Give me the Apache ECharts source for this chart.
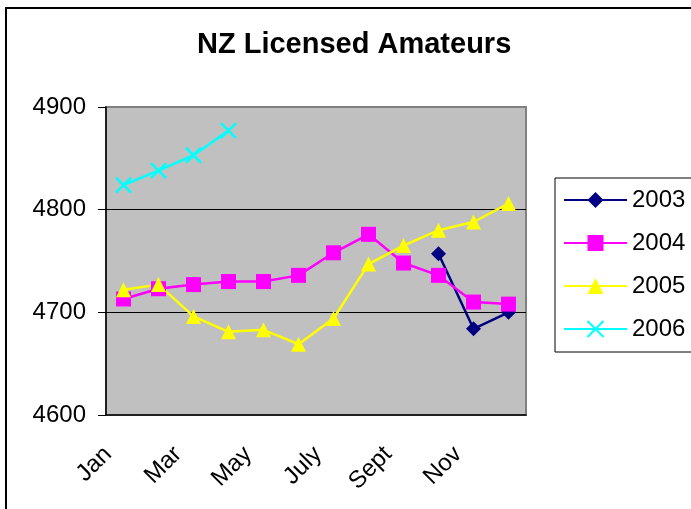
<!DOCTYPE html>
<html>
<head>
<meta charset="utf-8">
<script src="https://cdn.jsdelivr.net/npm/echarts@6/dist/echarts.min.js"></script>
<style>html,body{margin:0;padding:0;background:#fff;}#c{width:691px;height:509px;}</style>
</head>
<body>
<div id="c"></div>
<script>
var months = ['Jan','Feb','Mar','Apr','May','June','July','Aug','Sept','Oct','Nov','Dec'];
var y2003 = [null,null,null,null,null,null,null,null,null,4757,4684,4700];
var y2004 = [4713,4723,4727,4730,4730,4736,4758,4776,4748,4736,4710,4708];
var y2005 = [4722,4727,4696,4681,4683,4669,4694,4747,4765,4780,4788,4806];
var y2006 = [4824,4838,4853,4877,null,null,null,null,null,null,null,null];
var yTicks = [4600, 4700, 4800, 4900];

var FONT = "'Liberation Sans', Arial, sans-serif";
var chart = echarts.init(document.getElementById('c'), null, {renderer:'canvas'});
function mk(name, data, color, symbol, extra) {
  var s = {
    name: name, type: 'line', data: data, connectNulls: false,
    symbol: symbol, symbolSize: 15,
    lineStyle: {color: color, width: 2.5},
    itemStyle: {color: color},
    animation: false
  };
  if (extra) for (var k in extra) s[k] = extra[k];
  return s;
}
chart.setOption({
  backgroundColor: '#fff',
  animation: false,
  title: {
    text: 'NZ Licensed Amateurs', left: 197, top: 30, padding: 0,
    textStyle: {fontFamily: FONT, fontSize: 29, fontWeight: 'bold', color: '#000'}
  },
  graphic: [{
    type: 'rect', shape: {x: 6, y: 8, width: 720, height: 540},
    style: {fill: 'none', stroke: '#000', lineWidth: 2}, z: 100
  }],
  legend: {
    orient: 'vertical', left: 555, top: 178,
    padding: [10, 14, 11, 8],
    itemWidth: 63, itemHeight: 20, itemGap: 19,
    borderColor: '#000', borderWidth: 1, backgroundColor: '#fff',
    textStyle: {fontFamily: FONT, fontSize: 24, color: '#000', lineHeight: 24},
    data: ['2003','2004','2005','2006']
  },
  grid: {
    left: 106, right: 165, top: 107, bottom: 94,
    show: true, backgroundColor: '#C0C0C0', borderColor: '#808080', borderWidth: 2
  },
  xAxis: {
    type: 'category', data: months, boundaryGap: true,
    axisLine: {lineStyle: {color: '#000', width: 1.5}},
    axisTick: {interval: 0, length: 6, lineStyle: {color: '#000'}},
    axisLabel: {
      interval: 1, rotate: 45, margin: 20, padding: [0, 22, 0, 0],
      fontFamily: FONT, fontSize: 24, color: '#000'
    },
    splitLine: {show: false}
  },
  yAxis: {
    type: 'value', min: 4600, max: 4900, interval: 100,
    axisLine: {show: true, lineStyle: {color: '#000', width: 1.5}},
    axisTick: {show: true, length: 8, lineStyle: {color: '#000'}},
    axisLabel: {
      margin: 20, fontFamily: FONT, fontSize: 24, color: '#000',
      formatter: function (v) { return yTicks.indexOf(v) >= 0 ? String(v) : ''; }
    },
    splitLine: {show: true, lineStyle: {color: ['rgba(0,0,0,0)', '#000', '#000', '#808080'], width: 1}}
  },
  series: [
    mk('2003', y2003, '#000080', 'diamond'),
    mk('2004', y2004, '#FF00FF', 'rect'),
    mk('2005', y2005, '#FFFF00', 'triangle'),
    mk('2006', y2006, '#00FFFF', 'path://M0,0L10,10M10,0L0,10', {
      itemStyle: {color: '#00FFFF', borderColor: '#00FFFF', borderWidth: 2.5}
    })
  ]
});
</script>
</body>
</html>
